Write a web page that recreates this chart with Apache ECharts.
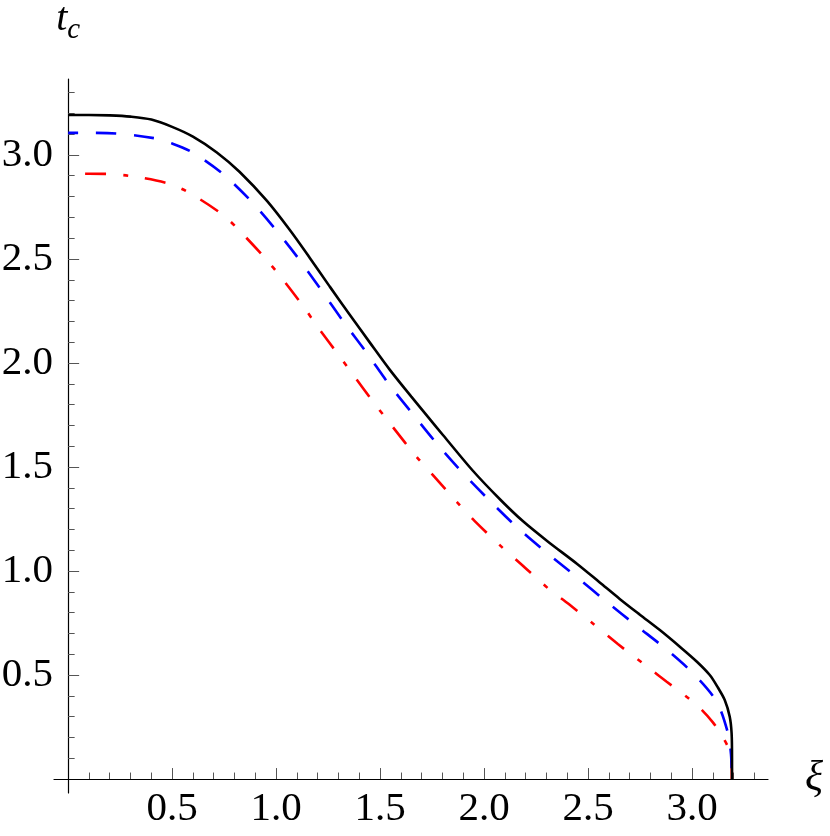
<!DOCTYPE html>
<html>
<head>
<meta charset="utf-8">
<script src="https://cdn.jsdelivr.net/npm/echarts@6/dist/echarts.min.js"></script>
<style>
    html, body { margin: 0; padding: 0; background: #fff; }
    #chart { width: 830px; height: 836px; }
</style>
</head>
<body>
<div id="chart"></div>
<script>
// tick positions
var majorTicks = [0.5, 1.0, 1.5, 2.0, 2.5, 3.0];
var minorTicks = [];
for (var i = 1; i <= 33; i++) {
    if (i % 5 != 0) minorTicks.push(i / 10);
}

// [xi, t_c]
var solidCurve = [
    [0, 3.192], [0.1, 3.192], [0.2, 3.19], [0.3, 3.184], [0.4, 3.17], [0.5, 3.135],
    [0.6, 3.088], [0.715, 3.012], [0.825, 2.918], [0.955, 2.78], [1.066, 2.639],
    [1.162, 2.505], [1.258, 2.367], [1.354, 2.232], [1.45, 2.099], [1.546, 1.968],
    [1.65, 1.838], [1.729, 1.742], [1.802, 1.654], [1.946, 1.482], [2.076, 1.345],
    [2.186, 1.24], [2.306, 1.142], [2.446, 1.035], [2.556, 0.945], [2.652, 0.866],
    [2.749, 0.79], [2.845, 0.716], [2.941, 0.636], [3.022, 0.565], [3.085, 0.5],
    [3.124, 0.44], [3.157, 0.38], [3.181, 0.3], [3.19, 0.22], [3.192, 0.1], [3.192, 0]
];
var dashedCurve = [
    [0, 3.106], [0.1, 3.106], [0.235, 3.103], [0.417, 3.08], [0.5, 3.055], [0.595, 3.014],
    [0.739, 2.913], [0.874, 2.784], [0.994, 2.646], [1.109, 2.5], [1.22, 2.346],
    [1.325, 2.197], [1.436, 2.048], [1.542, 1.899], [1.657, 1.755], [1.778, 1.606],
    [1.898, 1.471], [2.028, 1.337], [2.162, 1.207], [2.302, 1.087], [2.446, 0.971],
    [2.59, 0.851], [2.734, 0.736], [2.878, 0.622], [3.013, 0.5], [3.118, 0.372],
    [3.171, 0.226], [3.187, 0.12], [3.191, 0]
];
var dotDashCurve = [
    [0, 2.91], [0.177, 2.909], [0.297, 2.899], [0.474, 2.865], [0.575, 2.822], [0.739, 2.716],
    [0.821, 2.639], [0.946, 2.505], [1.023, 2.413], [1.133, 2.269], [1.2, 2.173],
    [1.311, 2.024], [1.378, 1.933], [1.46, 1.822], [1.561, 1.692], [1.676, 1.548],
    [1.753, 1.462], [1.873, 1.327], [1.955, 1.24], [2.09, 1.111], [2.177, 1.034],
    [2.312, 0.913], [2.407, 0.841], [2.52, 0.75], [2.643, 0.649], [2.787, 0.538],
    [2.878, 0.468], [3.022, 0.356], [3.099, 0.274], [3.147, 0.202], [3.175, 0.15],
    [3.189, 0.11], [3.191, 0]
];

var font = 'Liberation Serif';
var xMin = -0.068, xMax = 3.365;
var yMin = -0.067, yMax = 3.365;

// labels of an onZero axis sit at the grid edge, 14px off the axis line
function majorAxis(dim) {
    var horizontal = dim == 'x';
    return {
        type: 'value',
        min: horizontal ? xMin : yMin,
        max: horizontal ? xMax : yMax,
        position: horizontal ? 'bottom' : 'left',
        name: horizontal ? 'ξ' : '{t|t}{c|c}',
        nameLocation: 'end',
        nameGap: horizontal ? 37 : 34,
        nameTextStyle: horizontal ? {
            fontFamily: font, fontStyle: 'italic', fontSize: 42, color: '#000',
            verticalAlign: 'middle'
        } : {
            rich: {
                t: { fontFamily: font, fontStyle: 'italic', fontSize: 40, color: '#000',
                     verticalAlign: 'bottom', padding: [0, 0, 6, 0] },
                c: { fontFamily: font, fontStyle: 'italic', fontSize: 29, color: '#000',
                     verticalAlign: 'bottom' }
            }
        },
        axisLine: { show: true, onZero: true, onZeroAxisIndex: 0, lineStyle: { color: '#000', width: 1.2 } },
        axisTick: { show: true, inside: true, length: 11, customValues: majorTicks,
                    lineStyle: { color: '#555', width: 1 } },
        axisLabel: {
            customValues: majorTicks,
            formatter: function (v) { return v.toFixed(1); },
            fontFamily: font, fontSize: 41, color: '#000',
            margin: horizontal ? -4 : 1,
            padding: horizontal ? 0 : [0, 0, 10, 0]
        },
        splitLine: { show: false }
    };
}

function minorAxis(dim) {
    var horizontal = dim == 'x';
    return {
        type: 'value',
        min: horizontal ? xMin : yMin,
        max: horizontal ? xMax : yMax,
        position: horizontal ? 'bottom' : 'left',
        axisLine: { show: false, onZero: true, onZeroAxisIndex: 0 },
        axisTick: { show: true, inside: true, length: 6.5, customValues: minorTicks,
                    lineStyle: { color: '#555', width: 1 } },
        axisLabel: { show: false },
        splitLine: { show: false }
    };
}

var chart = echarts.init(document.getElementById('chart'));

var option = {
    animation: false,
    backgroundColor: '#fff',
    grid: { left: 54, top: 79, width: 714, height: 714, outerBoundsMode: 'none' },
    xAxis: [majorAxis('x'), minorAxis('x')],
    yAxis: [majorAxis('y'), minorAxis('y')],
    series: [
        {
            type: 'line', data: dotDashCurve, showSymbol: false, smooth: 0.3,
            lineStyle: { color: '#ff0000', width: 2.6, type: [21, 17, 5, 17], dashOffset: 43, cap: 'butt' }
        },
        {
            type: 'line', data: dashedCurve, showSymbol: false, smooth: 0.3,
            lineStyle: { color: '#0000ff', width: 2.6, type: [20, 18], dashOffset: 10, cap: 'butt' }
        },
        {
            type: 'line', data: solidCurve, showSymbol: false, smooth: 0.3,
            lineStyle: { color: '#000', width: 2.6 }
        }
    ]
};

chart.setOption(option);
</script>
</body>
</html>
